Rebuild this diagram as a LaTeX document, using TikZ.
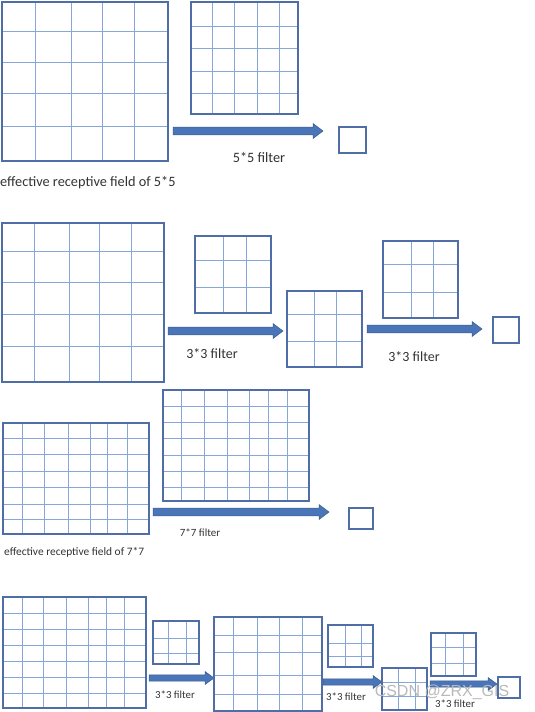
\documentclass[tikz,border=0pt]{standalone}
\usepackage{fontspec}
\setmainfont{Carlito}
\newfontfamily\wmfont{Liberation Sans}
\definecolor{gborderc}{RGB}{79,110,168}
\definecolor{glinec}{RGB}{135,167,218}
\definecolor{arrfill}{RGB}{74,117,185}
\definecolor{arrdraw}{RGB}{56,93,138}
\definecolor{txtc}{RGB}{50,50,50}
\tikzset{
  gline/.style={glinec, line width=0.9pt},
  gborder/.style={gborderc, line width=1.7pt},
  blockarr/.style={fill=arrfill, draw=arrdraw, line width=0.5pt, line join=miter},
  lbl/.style={text=txtc, inner sep=0pt},
}
\newcommand\gridbox[6]{%
  \foreach \gx in {#5} {\draw[gline] (\gx,#2) -- (\gx,#4);}
  \foreach \gy in {#6} {\draw[gline] (#1,\gy) -- (#3,\gy);}
  \draw[gborder] (#1,#2) rectangle (#3,#4);
}
\newcommand\bigarrow[3]{%
  \draw[blockarr] (#1,#3-3.8) -- (#2-10,#3-3.8) -- (#2-10,#3-7.5) -- (#2,#3)
    -- (#2-10,#3+7.5) -- (#2-10,#3+3.8) -- (#1,#3+3.8) -- cycle;
}
\newcommand\smallarrow[3]{%
  \draw[blockarr] (#1,#3-3.2) -- (#2-9,#3-3.2) -- (#2-9,#3-6.5) -- (#2,#3)
    -- (#2-9,#3+6.5) -- (#2-9,#3+3.2) -- (#1,#3+3.2) -- cycle;
}
\begin{document}
\begin{tikzpicture}[x=1pt,y=-1pt]
\useasboundingbox (0,0) rectangle (535,712);
% ---------- Section 1 ----------
\gridbox{2}{2}{168}{161}{35,71,102,134}{31,62,93,126}
\gridbox{191}{2}{298}{114}{212,234,257,279}{26,48,71,93}
\bigarrow{173}{323}{131}
\draw[gborder] (339,127) rectangle (366,153);
\node[lbl, font=\fontsize{14.3}{16}\selectfont] (f55) at (259,157) {5*5 filter};
\node[lbl, anchor=west, font=\fontsize{14.3}{16}\selectfont] (erf5) at (0,183) {effective receptive field of 5*5};
% ---------- Section 2 ----------
\gridbox{2}{223}{164}{382}{34,69,99,131}{251,282,314,346}
\gridbox{195}{236}{271}{313}{223,246}{260,287}
\bigarrow{168}{283}{331}
\gridbox{287}{291}{362}{367}{314,336}{314,341}
\gridbox{383}{241}{458}{318}{411,433}{264,292}
\bigarrow{367}{482}{329}
\draw[gborder] (493,317) rectangle (519,343);
\node[lbl, font=\fontsize{14}{16}\selectfont] (f33a) at (212,354) {3*3 filter};
\node[lbl, font=\fontsize{14}{16}\selectfont] (f33b) at (414,357) {3*3 filter};
% ---------- Section 3 ----------
\gridbox{3}{423}{149}{534}{22,44,68,90,107,127}{438,454,471,487,504,519}
\gridbox{163}{390}{309}{501}{181,204,227,249,268,287}{406,422,438,455,471,487}
\bigarrow{153}{329}{512}
\draw[gborder] (349,508) rectangle (373,529);
\node[lbl, font=\fontsize{11}{13}\selectfont] (f77) at (200,533) {7*7 filter};
\node[lbl, anchor=west, font=\fontsize{11.4}{13}\selectfont] (erf7) at (4,552) {effective receptive field of 7*7};
% ---------- Section 4 ----------
\gridbox{3}{597}{146}{708}{22,43,66,88,106,124}{613,629,645,661,677,693}
\gridbox{153}{621}{199}{664}{168,186}{638,653}
\smallarrow{149}{214}{678}
\gridbox{214}{617}{322}{711}{233,257,279,302}{635,652,675,694}
\gridbox{328}{625}{373}{667}{345,361}{643,656}
\smallarrow{323}{382}{682}
\gridbox{382}{668}{427}{710}{398,415}{682,696}
\gridbox{431}{633}{476}{676}{445,463}{647,663}
\smallarrow{430}{497}{684}
\draw[gborder] (498,677) rectangle (520,698);
\node[lbl, font=\fontsize{10.8}{12}\selectfont] (f33c) at (175,695) {3*3 filter};
\node[lbl, font=\fontsize{10.8}{12}\selectfont] (f33d) at (346,697) {3*3 filter};
\node[lbl, font=\fontsize{10.8}{12}\selectfont] (f33e) at (455,704) {3*3 filter};
\node[inner sep=0pt, text=gray!55, font=\wmfont\fontsize{16}{18}\selectfont] (wm) at (442,692) {CSDN @ZRX\_GIS};
\end{tikzpicture}
\end{document}
